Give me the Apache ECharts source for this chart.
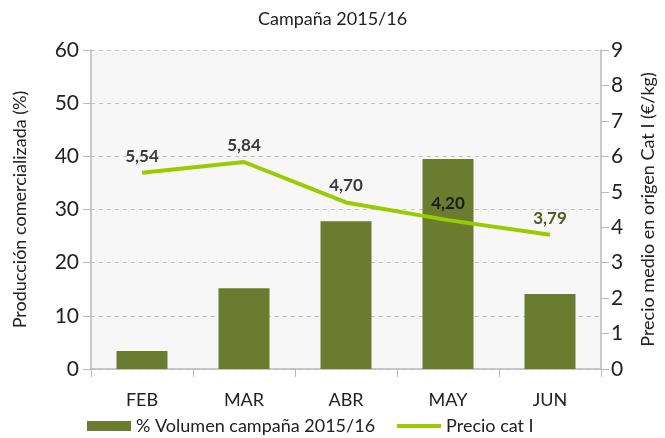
<!DOCTYPE html>
<html>
<head>
<meta charset="utf-8">
<script src="https://cdn.jsdelivr.net/npm/echarts@6/dist/echarts.min.js"></script>
<style>
  html, body { margin: 0; padding: 0; background: #fff; }
  #main { width: 665px; height: 438px; }
</style>
</head>
<body>
<div id="main"></div>
<script>
// datos de la campaña
var meses = ['FEB', 'MAR', 'ABR', 'MAY', 'JUN'];
var volumen = [3.4, 15.2, 27.8, 39.5, 14.1];   // % volumen campaña 2015/16
var precio = [5.54, 5.84, 4.70, 4.20, 3.79];   // €/kg
var colorEtiqueta = ['#3a3a3a', '#3a3a3a', '#3a3a3a', '#1a1a1a', '#4f5a22'];

var fuente = 'Lato, "DejaVu Sans", sans-serif';

var chart = echarts.init(document.getElementById('main'));

var option = {
  animation: false,
  textStyle: { fontFamily: fuente },
  title: {
    text: 'Campaña 2015/16',
    left: 'center',
    top: 5,
    textStyle: { fontSize: 18, fontWeight: 'normal', color: '#222', fontFamily: fuente }
  },
  legend: {
    bottom: -2,
    left: 82,
    itemGap: 22,
    itemWidth: 44,
    itemHeight: 10,
    textStyle: { fontSize: 18, color: '#222' },
    data: [
      { name: '% Volumen campaña 2015/16', icon: 'rect' },
      { name: 'Precio cat I', icon: 'path://M0,0 L44,0 L44,4 L0,4 Z' }
    ]
  },
  grid: {
    left: 91,
    right: 59,
    top: 50,
    bottom: 69,
    show: true,
    backgroundColor: '#f7f7f7',
    borderWidth: 0
  },
  xAxis: {
    type: 'category',
    data: meses,
    axisLine: { lineStyle: { color: '#b8b8b8', width: 1.5 } },
    axisTick: { show: true, length: 8, lineStyle: { color: '#b8b8b8' } },
    axisLabel: { fontSize: 18, color: '#222', margin: 22 }
  },
  yAxis: [
    {
      type: 'value',
      min: 0, max: 60, interval: 10,
      name: 'Producción comercializada (%)',
      nameLocation: 'middle',
      nameGap: 62,
      nameTextStyle: { fontSize: 18, color: '#222' },
      axisLine: { show: true, lineStyle: { color: '#b8b8b8', width: 1.5 } },
      axisTick: { show: true, length: 8, lineStyle: { color: '#b8b8b8' } },
      axisLabel: { fontSize: 21, color: '#222', margin: 12 },
      splitLine: { lineStyle: { color: '#c4c4c4', type: [4, 4] } }
    },
    {
      type: 'value',
      min: 0, max: 9, interval: 1,
      name: 'Precio medio en origen Cat I (€/kg)',
      nameLocation: 'middle',
      nameGap: 38,
      nameRotate: 90,
      nameTextStyle: { fontSize: 18, color: '#222' },
      axisLine: { show: true, lineStyle: { color: '#b8b8b8', width: 1.5 } },
      axisTick: { show: true, length: 8, lineStyle: { color: '#b8b8b8' } },
      axisLabel: { fontSize: 21, color: '#222', margin: 10 },
      splitLine: { show: false }
    }
  ],
  series: [
    {
      name: '% Volumen campaña 2015/16',
      type: 'bar',
      data: volumen,
      barWidth: '50%',
      itemStyle: { color: '#6b7b2f' }
    },
    {
      name: 'Precio cat I',
      type: 'line',
      yAxisIndex: 1,
      data: precio.map(function (v, i) {
        return { value: v, label: { color: colorEtiqueta[i] } };
      }),
      symbol: 'circle',
      symbolSize: 0,
      lineStyle: { color: '#99cc00', width: 4 },
      itemStyle: { color: '#99cc00' },
      label: {
        show: true,
        position: 'top',
        distance: 8,
        fontSize: 17,
        fontWeight: 'bold',
        formatter: function (p) { return p.value.toFixed(2).replace('.', ','); }
      }
    }
  ]
};

chart.setOption(option);
</script>
</body>
</html>
